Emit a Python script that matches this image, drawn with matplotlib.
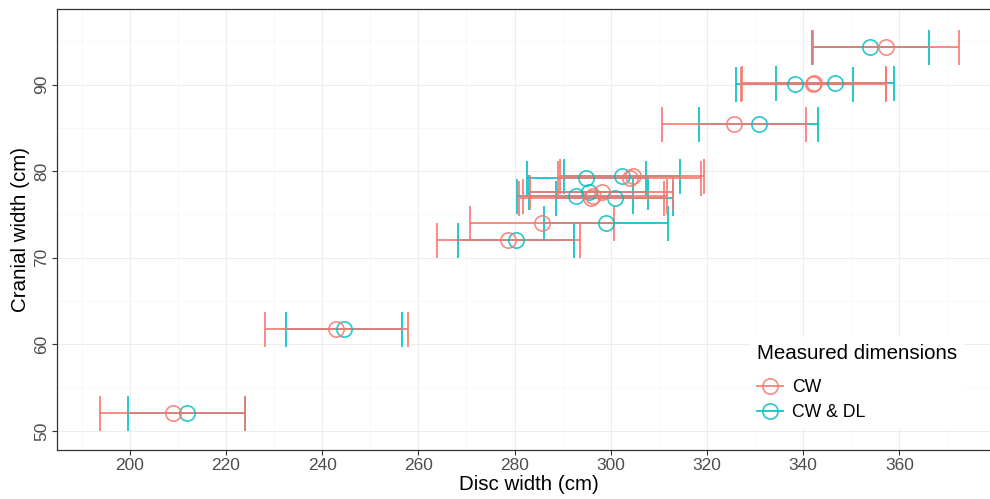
import matplotlib
matplotlib.use("Agg")
import matplotlib.pyplot as plt
from matplotlib.ticker import MultipleLocator, FixedLocator
from matplotlib.lines import Line2D
import numpy as np

plt.rcParams['font.family'] = ['Liberation Sans', 'DejaVu Sans']

# Cranial width (y) for each specimen
cranial_width = [52.1, 61.8, 72.0, 74.0, 76.9, 77.15, 77.6, 79.25, 79.4, 85.4, 90.1, 90.2, 94.4]

# Disc width estimates from CW alone
cw_low  = [193.8, 228.1, 263.9, 270.8, 281.0, 281.7, 283.3, 289.0, 289.5, 310.7, 327.0, 327.2, 342.0]
cw_mid  = [209.0, 242.8, 278.6, 285.7, 295.9, 296.4, 298.2, 303.9, 304.6, 325.6, 342.1, 342.2, 357.2]
cw_high = [224.0, 257.9, 293.5, 300.6, 311.0, 311.7, 312.9, 318.8, 319.3, 340.5, 357.1, 357.3, 372.3]

# Disc width estimates from CW & DL
dl_low  = [199.6, 232.4, 268.2, 286.2, 288.6, 280.5, 283.1, 282.6, 290.2, 318.4, 326.1, 334.4, 341.8]
dl_mid  = [211.9, 244.5, 280.2, 298.9, 300.8, 292.7, 295.4, 294.9, 302.3, 330.8, 338.2, 346.7, 353.9]
dl_high = [224.0, 256.6, 292.3, 311.8, 312.9, 304.6, 307.7, 307.3, 314.4, 343.0, 350.4, 358.96, 366.2]

series_labels = ["CW", "CW & DL"]
colors = ["#F8766D", "#00BFC4"]
x_ticks = [200, 220, 240, 260, 280, 300, 320, 340, 360]
y_ticks = [50, 60, 70, 80, 90]

fig = plt.figure(figsize=(9.9, 4.99), dpi=100)
ax = fig.add_axes([57/990, 49/499, (1001-57)/990, (449-8.3)/499])

y = np.array(cranial_width)
series = [
    (np.array(cw_low), np.array(cw_mid), np.array(cw_high)),
    (np.array(dl_low), np.array(dl_mid), np.array(dl_high)),
]

# draw teal first, then red on top
for idx in [1, 0]:
    lo, mid, hi = series[idx]
    ax.errorbar(mid, y, xerr=[mid - lo, hi - mid], fmt='none', ecolor=colors[idx],
                elinewidth=1.4, capsize=12.6, capthick=1.4, alpha=0.85, zorder=3)
for idx in [1, 0]:
    lo, mid, hi = series[idx]
    ax.plot(mid, y, linestyle='none', marker='o', markersize=11, markerfacecolor='none',
            markeredgecolor=colors[idx], markeredgewidth=1.2, alpha=0.85, zorder=4)

ax.set_xlim(184.9, 381.1)
ax.set_ylim(47.8, 98.7)
ax.xaxis.set_major_locator(FixedLocator(x_ticks))
ax.xaxis.set_minor_locator(MultipleLocator(10))
ax.yaxis.set_major_locator(FixedLocator(y_ticks))
ax.yaxis.set_minor_locator(MultipleLocator(5))

ax.grid(which='major', color='#EDEDED', linewidth=0.8, zorder=0)
ax.grid(which='minor', color='#F5F5F5', linewidth=0.5, zorder=0)
ax.set_axisbelow(True)

for s in ax.spines.values():
    s.set_color('#333333')
    s.set_linewidth(0.9)

ax.tick_params(axis='both', which='major', length=3.5, width=0.8, color='#333333',
               labelcolor='#4D4D4D', labelsize=12.5, pad=2)
ax.tick_params(axis='both', which='minor', length=0)
for lab in ax.get_yticklabels():
    lab.set_rotation(90)
    lab.set_va('center')

ax.set_xlabel("Disc width (cm)", fontsize=14.8, color='black', labelpad=2)
ax.set_ylabel("Cranial width (cm)", fontsize=14.8, color='black', labelpad=3)

handles = []
for idx in [0, 1]:
    h = Line2D([0], [0], color=colors[idx], linewidth=1.4, marker='o', markersize=11,
               markerfacecolor='none', markeredgecolor=colors[idx], markeredgewidth=1.2, alpha=0.85)
    handles.append(h)
leg = fig.legend(handles, series_labels, title="Measured dimensions", loc='upper left',
                 bbox_to_anchor=(741/990, 1 - 328/499), frameon=True, fontsize=12.7,
                 title_fontsize=14.8, handlelength=1.5, handletextpad=0.5,
                 labelspacing=0.46, borderpad=0.4, alignment='left')
leg._legend_box.sep = 11.5
leg.get_frame().set_facecolor('white')
leg.get_frame().set_edgecolor('none')
leg.get_frame().set_alpha(1)

fig.savefig("out.png", dpi=100)
